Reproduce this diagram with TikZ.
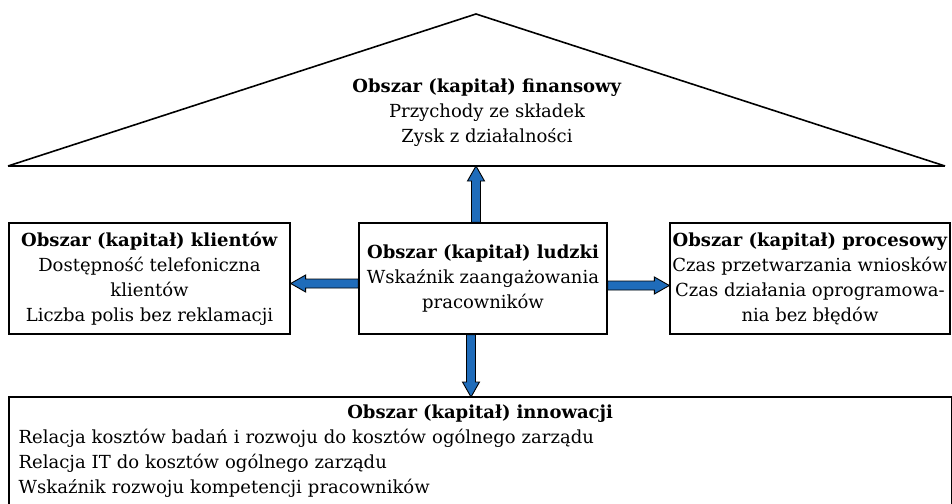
\documentclass[tikz,border=0pt]{standalone}
\usepackage{fontspec}
\setmainfont{DejaVu Serif}
\usetikzlibrary{calc}
\usetikzlibrary{positioning}
\usepackage{color}
\definecolor{arrowblue}{RGB}{31,108,186}

\begin{document}
\begin{tikzpicture}[x=1pt,y=-1pt,line join=miter]
  \tikzstyle{obszar}=[draw,line width=1.3pt,align=center,inner sep=0pt,font=\fontsize{18}{25}\selectfont]
  \tikzstyle{fat}=[draw=black,line width=0.9pt,fill=arrowblue,
    to path={($(\tikztostart)!4.5pt!90:(\tikztotarget)$)
      -- ($($(\tikztotarget)!15pt!(\tikztostart)$)!4.5pt!90:(\tikztotarget)$)
      -- ($($(\tikztotarget)!15pt!(\tikztostart)$)!8.5pt!90:(\tikztotarget)$)
      -- (\tikztotarget)
      -- ($($(\tikztotarget)!15pt!(\tikztostart)$)!8.5pt!-90:(\tikztotarget)$)
      -- ($($(\tikztotarget)!15pt!(\tikztostart)$)!4.5pt!-90:(\tikztotarget)$)
      -- ($(\tikztostart)!4.5pt!-90:(\tikztotarget)$) -- cycle}]
  \clip (0,0) rectangle (952,503);
  \coordinate (apex) at (476,14);
  \coordinate (baseL) at (8,166);
  \coordinate (baseR) at (945,166);
  \coordinate (cut) at (0,530);
  \draw[line width=1.6pt] (baseL) -- (apex) -- (baseR);
  \draw[line width=2.6pt] (baseL) -- (baseR);
  \node[obszar,draw=none] (finanse) at (487,113)
    {\textbf{Obszar (kapitał) finansowy}\\Przychody ze składek\\Zysk z działalności};
  \node[obszar,minimum width=281pt,minimum height=111pt] (klienci) at (149.5,278.5)
    {\textbf{Obszar (kapitał) klientów}\\Dostępność telefoniczna\\klientów\\Liczba polis bez reklamacji};
  \node[obszar,minimum width=248pt,minimum height=111pt] (ludzki) at (483,278.5)
    {\textbf{Obszar (kapitał) ludzki}\\Wskaźnik zaangażowania\\pracowników};
  \node[obszar,minimum width=280pt,minimum height=111pt] (procesy) at (810,278.5)
    {\textbf{Obszar (kapitał) procesowy}\\Czas przetwarzania wniosków\\Czas działania oprogramowa-\\nia bez błędów};
  \node[obszar,draw=none,anchor=north west,align=left,text width=923pt,inner xsep=9pt,inner ysep=7pt] (innow) at (9,397)
    {\makebox[\linewidth][c]{\textbf{Obszar (kapitał) innowacji}}\\
     Relacja kosztów badań i rozwoju do kosztów ogólnego zarządu\\
     Relacja IT do kosztów ogólnego zarządu\\
     Wskaźnik rozwoju kompetencji pracowników};
  \draw[line width=1.3pt] (innow.north west |- cut) -- (innow.north west) -- (innow.north east) -- (innow.north east |- cut);
  \coordinate (dn) at ([xshift=-12pt]ludzki.south);
  \draw[fat] (ludzki.north -| apex) to (apex |- baseL);
  \draw[fat] ([yshift=-5pt]ludzki.west) to ([yshift=-5pt]klienci.east);
  \draw[fat] ([yshift=-7pt]ludzki.east) to ([yshift=-7pt]procesy.west);
  \draw[fat] (dn) to (dn |- innow.north);
\end{tikzpicture}
\end{document}
